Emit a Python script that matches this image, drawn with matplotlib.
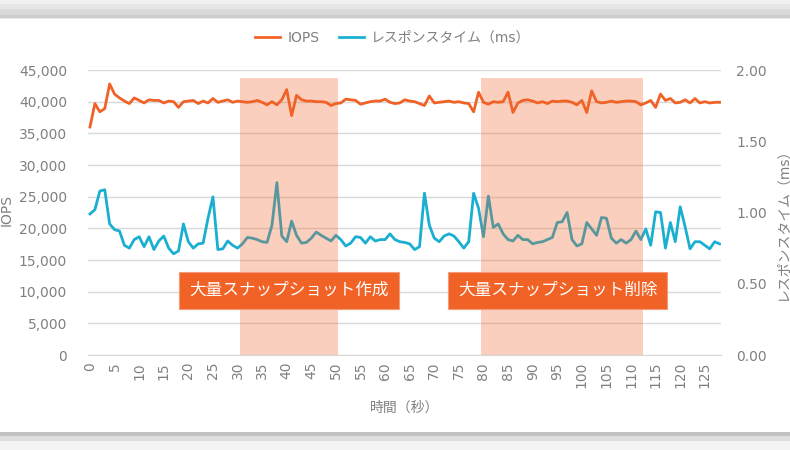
import numpy as np
import matplotlib
matplotlib.use('Agg')
import matplotlib.pyplot as plt
from matplotlib.ticker import FuncFormatter, MultipleLocator

plt.rcParams['font.family'] = ['DejaVu Sans', 'Noto Sans CJK JP']

ORANGE = '#f06226'
TEAL = '#1aafd0'
TEXT = '#808080'
GRID = '#d9d9d9'

# 経過時間（秒）
seconds = list(range(129))

iops = [
    36000, 39700, 38400, 38900, 42800, 41200, 40600, 40100, 39700, 40600,
    40200, 39800, 40300, 40200, 40200, 39800, 40100, 40000, 39100, 40000,
    40100, 40200, 39700, 40100, 39800, 40500, 39900, 40100, 40300, 39900,
    40100, 40000, 39900, 40000, 40200, 39900, 39500, 40000, 39500, 40300,
    41900, 37800, 41000, 40300, 40100, 40100, 40000, 40000, 39900, 39400,
    39700, 39800, 40400, 40300, 40200, 39600, 39800, 40000, 40100, 40100,
    40400, 39900, 39700, 39800, 40300, 40100, 40000, 39700, 39400, 40900,
    39800, 39900, 40000, 40100, 39900, 40000, 39800, 39700, 38400, 41500,
    39900, 39600, 40000, 39900, 40000, 41500, 38300, 39800, 40200, 40300,
    40100, 39800, 40000, 39700, 40100, 40000, 40100, 40100, 39900, 39500,
    40200, 38300, 41700, 40000, 39800, 39900, 40100, 39900, 40000, 40100,
    40100, 40000, 39500, 39800, 40200, 39100, 41200, 40200, 40500, 39800,
    39900, 40300, 39800, 40500, 39800, 40000, 39800, 39900, 39900,
]

response_ms = [
    0.99, 1.02, 1.15, 1.16, 0.92, 0.88, 0.87, 0.77, 0.75, 0.81,
    0.83, 0.76, 0.83, 0.74, 0.80, 0.835, 0.75, 0.71, 0.73, 0.92,
    0.795, 0.75, 0.78, 0.785, 0.96, 1.11, 0.74, 0.745, 0.80, 0.77,
    0.75, 0.78, 0.825, 0.82, 0.81, 0.795, 0.79, 0.91, 1.21, 0.835,
    0.795, 0.94, 0.84, 0.785, 0.79, 0.82, 0.863, 0.84, 0.82, 0.80,
    0.84, 0.81, 0.765, 0.785, 0.83, 0.825, 0.785, 0.83, 0.80, 0.81,
    0.81, 0.85, 0.81, 0.795, 0.79, 0.78, 0.74, 0.76, 1.135, 0.91,
    0.82, 0.795, 0.835, 0.85, 0.835, 0.795, 0.75, 0.795, 1.135, 1.03,
    0.83, 1.115, 0.895, 0.92, 0.85, 0.81, 0.80, 0.84, 0.81, 0.81,
    0.78, 0.79, 0.795, 0.81, 0.825, 0.93, 0.935, 1.00, 0.81, 0.765,
    0.78, 0.93, 0.885, 0.84, 0.965, 0.96, 0.82, 0.785, 0.81, 0.785,
    0.81, 0.87, 0.81, 0.885, 0.77, 1.005, 1.0, 0.75, 0.93, 0.795,
    1.04, 0.90, 0.745, 0.795, 0.795, 0.77, 0.745, 0.795, 0.78,
]

# 大量スナップショット作成 / 削除 の区間
events = ['大量スナップショット作成', '大量スナップショット削除']
event_spans = [(30.5, 50.5), (79.5, 112.5)]

# where the event labels sit (x in seconds, y in IOPS)
LABEL_X = [40.5, 95.1]
LABEL_Y = 10180


def main():
    fig = plt.figure(figsize=(7.9, 4.5), dpi=100)

    # frame shadow at top and bottom
    shade = np.ones(450)
    shade[0:4] = 0.94
    shade[4:9] = 0.9
    shade[9:15] = 0.85
    shade[15:18] = 0.8
    shade[18] = 0.92
    shade[432:436] = 0.76
    shade[436:441] = 0.87
    shade[441:] = 0.95
    bg = fig.add_axes([0, 0, 1, 1], zorder=-10)
    bg.imshow(shade[:, None], cmap='gray', vmin=0, vmax=1, aspect='auto',
              interpolation='nearest', extent=[0, 1, 0, 1])
    bg.axis('off')

    ax = fig.add_axes([0.1114, 0.2111, 0.8013, 0.6333])
    ax2 = ax.twinx()

    ax.plot(seconds, iops, color=ORANGE, lw=2.0, label='IOPS', solid_joinstyle='round')
    ax2.plot(seconds, response_ms, color=TEAL, lw=2.0, label='レスポンスタイム（ms）',
             solid_joinstyle='round')

    ax.set_xlim(-0.4, 128.3)
    ax.set_ylim(0, 45000)
    ax2.set_ylim(0, 2.0)

    ax.yaxis.set_major_locator(MultipleLocator(5000))
    ax.yaxis.set_major_formatter(FuncFormatter(lambda v, p: f'{int(v):,}'))
    ax2.yaxis.set_major_locator(MultipleLocator(0.5))
    ax2.yaxis.set_major_formatter(FuncFormatter(lambda v, p: f'{v:.2f}'))
    ax.xaxis.set_major_locator(MultipleLocator(5))

    ax.grid(axis='y', color=GRID, lw=1.0)
    ax.set_axisbelow(True)
    for a in (ax, ax2):
        for s in ('top', 'left', 'right', 'bottom'):
            a.spines[s].set_visible(False)
    ax.spines['bottom'].set_visible(True)
    ax.spines['bottom'].set_color(GRID)

    ax.tick_params(axis='y', length=0, pad=15, labelsize=10, labelcolor=TEXT)
    ax2.tick_params(axis='y', length=0, pad=11, labelsize=10, labelcolor=TEXT)
    ax.tick_params(axis='x', length=0, pad=5, labelsize=10, labelcolor=TEXT,
                   labelrotation=90)

    # shaded event spans, drawn over both lines
    top = 43750 / 45000
    for (x0, x1) in event_spans:
        ax2.axvspan(x0, x1, ymin=0, ymax=top, color=ORANGE, alpha=0.3, lw=0, zorder=5)

    for name, lx in zip(events, LABEL_X):
        ax2.text(lx, LABEL_Y, name, transform=ax.transData, ha='center', va='center',
                 fontsize=12, color='white', family=['Noto Sans CJK JP'], zorder=10,
                 bbox=dict(boxstyle='square,pad=0.6', fc=ORANGE, ec='#f59a78', lw=0.8))

    ax.set_xlabel('時間（秒）', color=TEXT, fontsize=10, labelpad=9)
    fig.text(0.009, 0.533, 'IOPS', rotation=90, ha='center', va='center',
             color=TEXT, fontsize=10)
    fig.text(0.991, 0.51, 'レスポンスタイム（ms）', rotation=90, ha='center', va='center',
             color=TEXT, fontsize=10)

    h1, l1 = ax.get_legend_handles_labels()
    h2, l2 = ax2.get_legend_handles_labels()
    fig.legend(h1 + h2, l1 + l2, loc='center', bbox_to_anchor=(0.497, 0.916), ncol=2,
               frameon=False, fontsize=10, labelcolor=TEXT, handlelength=1.8,
               handletextpad=0.5, columnspacing=1.4)

    fig.savefig('out.png', dpi=100)


if __name__ == '__main__':
    main()
